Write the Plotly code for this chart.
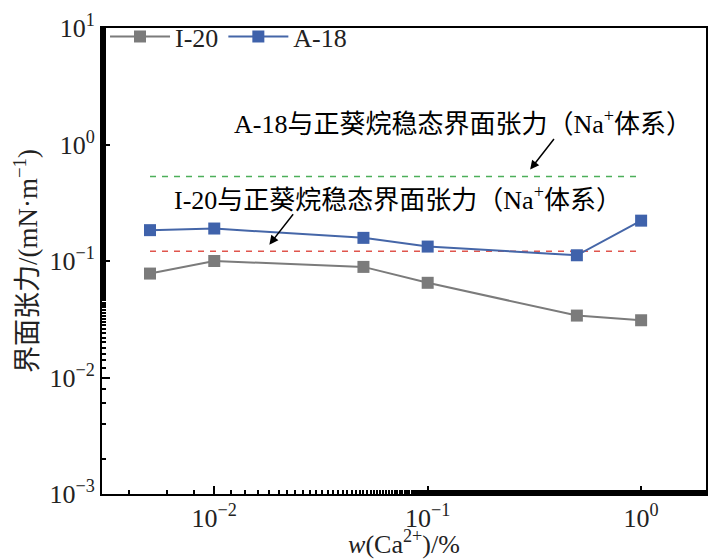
import plotly.graph_objects as go

# Ca2+ mass fraction, %
ca_conc = [0.005, 0.01, 0.05, 0.1, 0.5, 1.0]
ift_i20 = [0.078, 0.100, 0.089, 0.065, 0.034, 0.031]
ift_a18 = [0.184, 0.190, 0.158, 0.133, 0.112, 0.222]

# steady-state IFT in the Na+ system (reference lines)
ref_x = [0.005, 1.0]
na_a18 = 0.53
na_i20 = 0.121

y_ticks = [1e-3, 1e-2, 1e-1, 1e0, 1e1]
y_ticklabels = ['10<sup>−3</sup>', '10<sup>−2</sup>', '10<sup>−1</sup>', '10<sup>0</sup>', '10<sup>1</sup>']
x_ticks = [1e-2, 1e-1, 1e0]
x_ticklabels = ['10<sup>−2</sup>', '10<sup>−1</sup>', '10<sup>0</sup>']

FONT = 'Liberation Serif, Noto Sans CJK SC'

fig = go.Figure()
fig.add_trace(go.Scatter(x=ref_x, y=[na_a18] * 2, mode='lines', showlegend=False,
                         line=dict(color='#4daf5a', width=1.5, dash='6px,6px')))
fig.add_trace(go.Scatter(x=ref_x, y=[na_i20] * 2, mode='lines', showlegend=False,
                         line=dict(color='#e0554d', width=1.5, dash='6px,6px')))
fig.add_trace(go.Scatter(x=ca_conc, y=ift_i20, name='I-20', mode='lines+markers',
                         line=dict(color='#7b7b7b', width=2),
                         marker=dict(symbol='square', size=12, color='#7b7b7b')))
fig.add_trace(go.Scatter(x=ca_conc, y=ift_a18, name='A-18', mode='lines+markers',
                         line=dict(color='#4566a8', width=2),
                         marker=dict(symbol='square', size=12, color='#3f62ab')))

# labels and arrows (positions in log10 axis units)
fig.add_annotation(x=-0.834, y=0.19, xref='x', yref='y', showarrow=False,
                   text='A-18与正葵烷稳态界面张力（Na<sup>+</sup>体系）',
                   font=dict(size=26, color='black', family=FONT))
fig.add_annotation(x=-0.52, y=-0.215, xref='x', yref='y', ax=25, ay=-32,
                   showarrow=True, arrowhead=2, arrowsize=1.2, arrowwidth=1.5,
                   arrowcolor='black', text='')
fig.add_annotation(x=-1.138, y=-0.463, xref='x', yref='y', showarrow=False,
                   text='I-20与正葵烷稳态界面张力（Na<sup>+</sup>体系）',
                   font=dict(size=26, color='black', family=FONT))
fig.add_annotation(x=-1.742, y=-0.86, xref='x', yref='y', ax=25, ay=-32,
                   showarrow=True, arrowhead=2, arrowsize=1.2, arrowwidth=1.5,
                   arrowcolor='black', text='')

axis_style = dict(type='log', ticks='inside', ticklen=8, tickwidth=1.5, tickcolor='black',
                  minor=dict(ticks='inside', ticklen=4, tickcolor='black', showgrid=False),
                  showline=True, linecolor='black', linewidth=2, mirror=True,
                  showgrid=False, zeroline=False, ticklabeloverflow='allow',
                  tickfont=dict(size=26, family=FONT, color='#222'))

fig.update_xaxes(range=[-2.526, 0.304], tickvals=x_ticks, ticktext=x_ticklabels,
                 title=dict(text='<i>w</i>(Ca<sup>2+</sup>)/%', standoff=6,
                            font=dict(size=26, family=FONT, color='#222')),
                 **axis_style)
fig.update_yaxes(range=[-3, 1], tickvals=y_ticks, ticktext=y_ticklabels,
                 title=dict(text='界面张力/(mN·m<sup>−1</sup>)', standoff=4,
                            font=dict(size=27, family=FONT, color='#222')),
                 **axis_style)

# the page body adds an 8px margin, so the figure is drawn 8px smaller
fig.update_layout(width=716, height=551, plot_bgcolor='white', paper_bgcolor='white',
                  margin=dict(l=94, r=18, t=2, b=65),
                  legend=dict(orientation='h', x=0.005, y=1.032, xanchor='left', yanchor='top',
                              bgcolor='rgba(0,0,0,0)', font=dict(size=26, family=FONT, color='#222'),
                              itemwidth=60, tracegroupgap=0))

fig.write_html("out.html")
